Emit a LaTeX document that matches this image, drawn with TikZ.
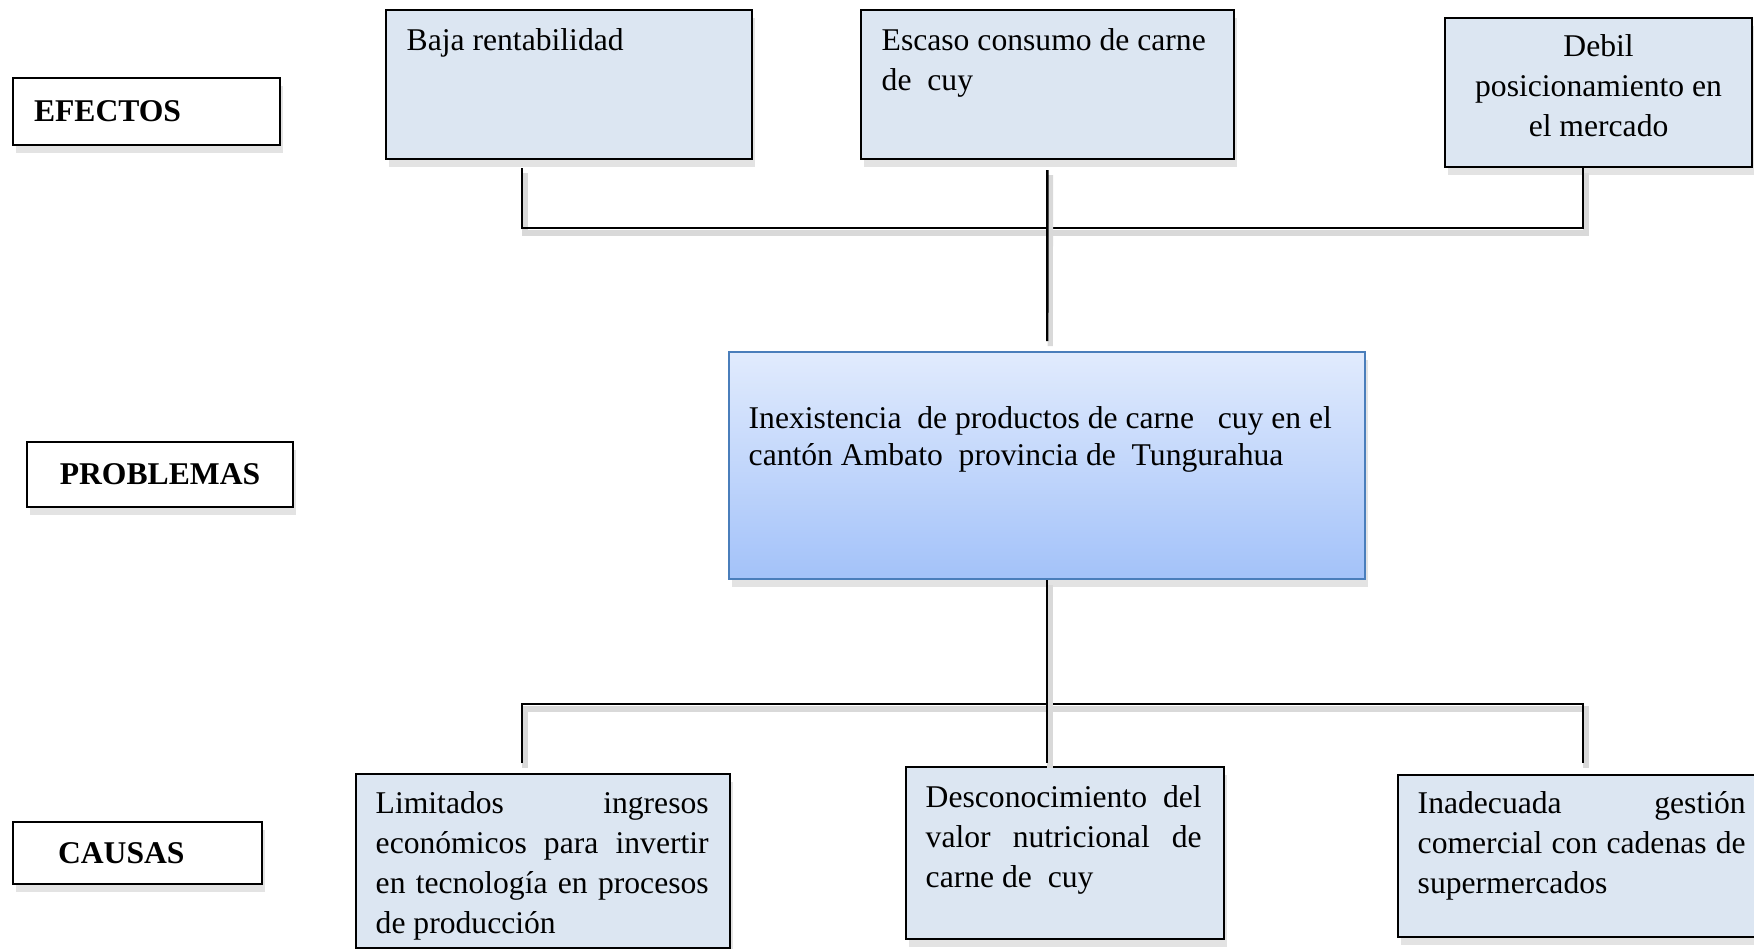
\documentclass[tikz,border=0pt]{standalone}
\usepackage{fontspec}
\setmainfont{Liberation Serif}
\usetikzlibrary{shadows,calc}

\definecolor{cajaazul}{HTML}{DCE6F2}
\definecolor{bordeazul}{HTML}{4A7EBB}
\definecolor{degradeA}{HTML}{E1EBFD}
\definecolor{degradeB}{HTML}{A3C2F9}

\newcommand{\llena}[1]{\leavevmode\hbox to \hsize{\spaceskip=.25em plus 1fil minus .06em\relax #1}}

\begin{document}
\begin{tikzpicture}[x=0.1mm, y=-0.1mm, font=\fontsize{9}{11.4}\selectfont,
  sombra/.style={drop shadow={shadow xshift=0.3mm, shadow yshift=-0.8mm, fill=black!22}},
  rotulo/.style={draw, line width=0.6pt, fill=white, sombra, font=\fontsize{9}{11.4}\selectfont\bfseries},
  caja/.style={draw, line width=0.6pt, fill=cajaazul, sombra, anchor=north west, inner sep=0pt},
  texto/.style={anchor=north west, inner sep=0pt, align=flush left,
    execute at begin node={\spaceskip=0pt\xspaceskip=0pt\strut}},
  linea/.style={line width=0.7pt, preaction={draw=black!15, line width=1.5pt, transform canvas={shift={(0.3mm,-0.5mm)}}}}]

  \useasboundingbox (0,0) rectangle (1754,948);

  % row labels
  \node[rotulo, minimum height=6.7mm, text width=22.5mm, inner xsep=2.1mm, align=left] (efectos) at (146.5,111.5) {EFECTOS};
  \node[rotulo, minimum width=26.6mm, minimum height=6.5mm] (problemas) at (160,474.5) {PROBLEMAS};
  \node[rotulo, minimum height=6.2mm, text width=15.9mm, inner xsep=4.5mm, align=left] (causas) at (137.5,853) {CAUSAS};

  % effects
  \node[caja, minimum width=36.6mm, minimum height=14.9mm] (baja) at (385,9) {};
  \node[texto, text width=33mm] (bajaT) at ($(baja.north west)+(21,13)$) {Baja rentabilidad};
  \node[caja, minimum width=37.3mm, minimum height=14.9mm] (escaso) at (860,9) {};
  \node[texto, text width=34mm] (escasoT) at ($(escaso.north west)+(21,13)$) {Escaso consumo de carne\\de\ \ cuy};
  \node[caja, minimum width=30.7mm, minimum height=14.9mm] (debil) at (1444,17) {};
  \node[texto, anchor=north, text width=28mm, align=flush center] (debilT) at ($(debil.north)+(0,11)$) {Debil\\posicionamiento en\\el mercado};

  % central problem
  \node[caja, draw=bordeazul, top color=degradeA, bottom color=degradeB, minimum width=63.6mm, minimum height=22.7mm] (central) at (728,351) {};
  \node[texto, text width=61mm, font=\fontsize{9}{10.5}\selectfont] (centralT) at ($(central.north west)+(20,51)$)
    {Inexistencia\ \ de productos de carne\ \ \ cuy en el\\cantón Ambato\ \ provincia de\ \ Tungurahua};

  % causes
  \node[caja, minimum width=37.4mm, minimum height=17.4mm] (limitados) at (355,773) {};
  \node[texto, text width=33.3mm] (limitadosT) at ($(limitados.north west)+(20,12)$)
    {\llena{Limitados ingresos}\\\llena{económicos para invertir}\\\llena{en tecnología en procesos}\\de producción};
  \node[caja, minimum width=31.8mm, minimum height=17.2mm] (descon) at (905,766) {};
  \node[texto, text width=27.6mm] (desconT) at ($(descon.north west)+(20,13)$)
    {\llena{Desconocimiento del}\\\llena{valor nutricional de}\\carne de\ \ cuy};
  \node[caja, minimum width=36.6mm, minimum height=16.2mm] (inadecuada) at (1397,774) {};
  \node[texto, text width=32.8mm] (inadecuadaT) at ($(inadecuada.north west)+(20,11)$)
    {\llena{Inadecuada gestión}\\\llena{comercial con cadenas de}\\supermercados};

  % connectors
  \coordinate (ramaI) at (522,168);
  \coordinate (ramaD) at (1583,168);
  \coordinate (barraSup) at (1046,228);
  \draw[linea] (ramaI) |- (barraSup) -| (ramaD);
  \draw[linea, shorten <=1mm, shorten >=1mm] (escaso) -- (central);

  \coordinate (ramaIinf) at (522,763);
  \coordinate (ramaDinf) at (1583,763);
  \coordinate (barraInf) at (1046,704);
  \draw[linea] (ramaIinf) |- (barraInf) -| (ramaDinf);
  \draw[linea, shorten >=0.3mm] (central.south) -- (central.south |- descon.north);
\end{tikzpicture}
\end{document}
